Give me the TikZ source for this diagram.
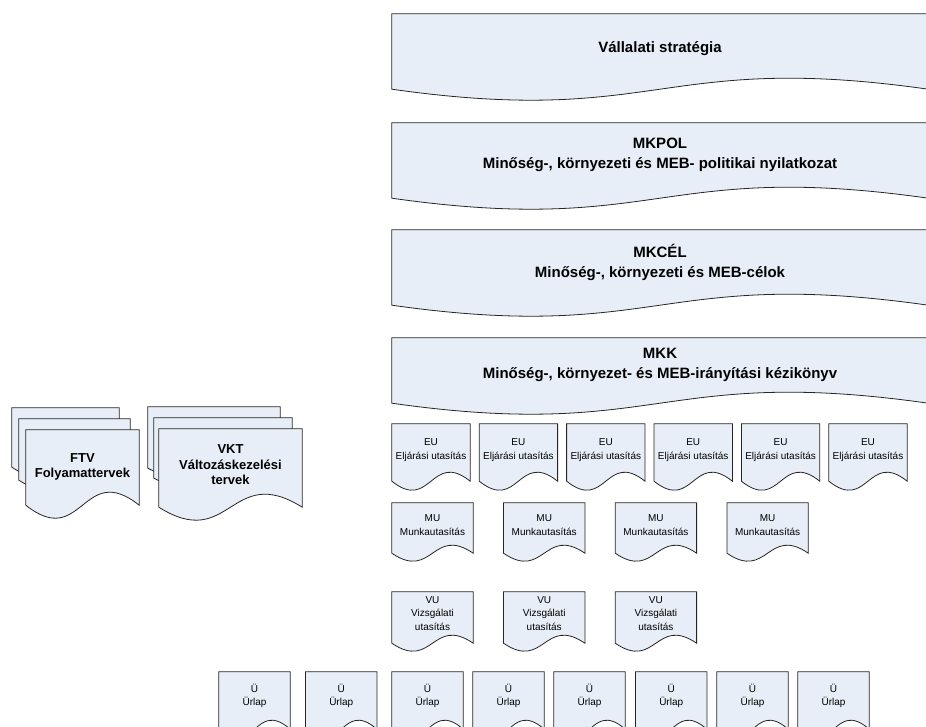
\documentclass[tikz,border=0pt]{standalone}
\usepackage{fontspec}
\setmainfont{Liberation Sans}
\usetikzlibrary{calc,backgrounds}
\definecolor{docfill}{RGB}{232,238,247}
\tikzset{
  doc/.style={inner sep=0pt, align=center},
  big/.style={doc, minimum width=536pt, minimum height=64pt, font=\fontsize{15}{20}\selectfont\bfseries},
  small/.style={doc, font=\fontsize{10}{13.5}\selectfont},
  stack/.style={doc, font=\fontsize{13}{15.5}\selectfont\bfseries},
  docline/.style={draw=black!85, fill=docfill, line width=0.8pt}
}
% document outline round a node: #2 = side below the node, #3 = depth of the wave
\newcommand{\docshape}[3]{%
  \draw[docline] (#1.north west) -- (#1.north east) -- ($(#1.south east)+(0,#2)$)
    .. controls ($(#1.south)+(0,#2-3.464*#3)$) and ($(#1.south)+(0,#2+3.464*#3)$) .. ($(#1.south west)+(0,#2)$) -- cycle;}
\begin{document}
\begin{tikzpicture}[x=1pt, y=-1pt]
  \useasboundingbox (0,0) rectangle (926,727);
  \node[big, minimum height=70pt] (vs) at (660,49) {Vállalati stratégia};
  \node[big] (mkpol) at (660,155) {MKPOL\\Minőség-, környezeti és MEB- politikai nyilatkozat};
  \node[big] (mkcel) at (660,262) {MKCÉL\\Minőség-, környezeti és MEB-célok};
  \node[big, minimum height=54pt] (mkk) at (660,365) {MKK\\Minőség-, környezet- és MEB-irányítási kézikönyv};
  \foreach \i in {1,...,6}
    \node[small, minimum width=78pt, minimum height=52pt] (eu\i) at ({431+87.4*(\i-1)},450) {EU\\Eljárási utasítás};
  \foreach \i in {1,...,4}
    \node[small, minimum width=81pt, minimum height=44pt] (mu\i) at ({432.5+111.7*(\i-1)},525) {MU\\Munkautasítás};
  \foreach \i in {1,2,3}
    \node[small, minimum width=81pt, minimum height=43pt] (vu\i) at ({432.5+111.7*(\i-1)},613.5) {VU\\Vizsgálati\\utasítás};
  \foreach \i/\x in {1/219,2/305.7,3/392,4/473,5/554,6/635.7,7/717,8/798}
    \node[small, minimum width=71pt, minimum height=48pt] (u\i) at ({\x+35.5},696) {Ü\\Ürlap};
  % stacked documents on the left
  \node[doc, minimum width=107pt, minimum height=49pt] (ftv3) at (65.5,432.5) {};
  \node[doc, minimum width=111pt, minimum height=51pt] (ftv2) at (74.5,444.5) {};
  \node[stack, minimum width=113pt, minimum height=74pt] (ftv) at (82.5,467) {FTV\\Folyamattervek};
  \node[doc, minimum width=132pt, minimum height=51pt] (vkt3) at (214,432.5) {};
  \node[doc, minimum width=138pt, minimum height=50pt] (vkt2) at (223,443) {};
  \node[stack, minimum width=143pt, minimum height=72pt] (vkt) at (230.5,465) {VKT\\Változáskezelési\\tervek};
  \begin{scope}[on background layer]
    \clip (0,0) rectangle (926,727);
    \docshape{vs}{5}{11}
    \foreach \n in {mkpol,mkcel,mkk} {\docshape{\n}{11}{11}}
    \foreach \i in {1,...,6} {\docshape{eu\i}{5}{9}}
    \foreach \i in {1,...,4} {\docshape{mu\i}{6}{8}}
    \foreach \i in {1,2,3} {\docshape{vu\i}{8}{8}}
    \foreach \i in {1,...,8} {\docshape{u\i}{9}{9}}
    \foreach \n in {ftv3,ftv2,vkt3,vkt2} {\docshape{\n}{10}{10}}
    \docshape{ftv}{1}{13}
    \docshape{vkt}{6}{13}
  \end{scope}
\end{tikzpicture}
\end{document}
